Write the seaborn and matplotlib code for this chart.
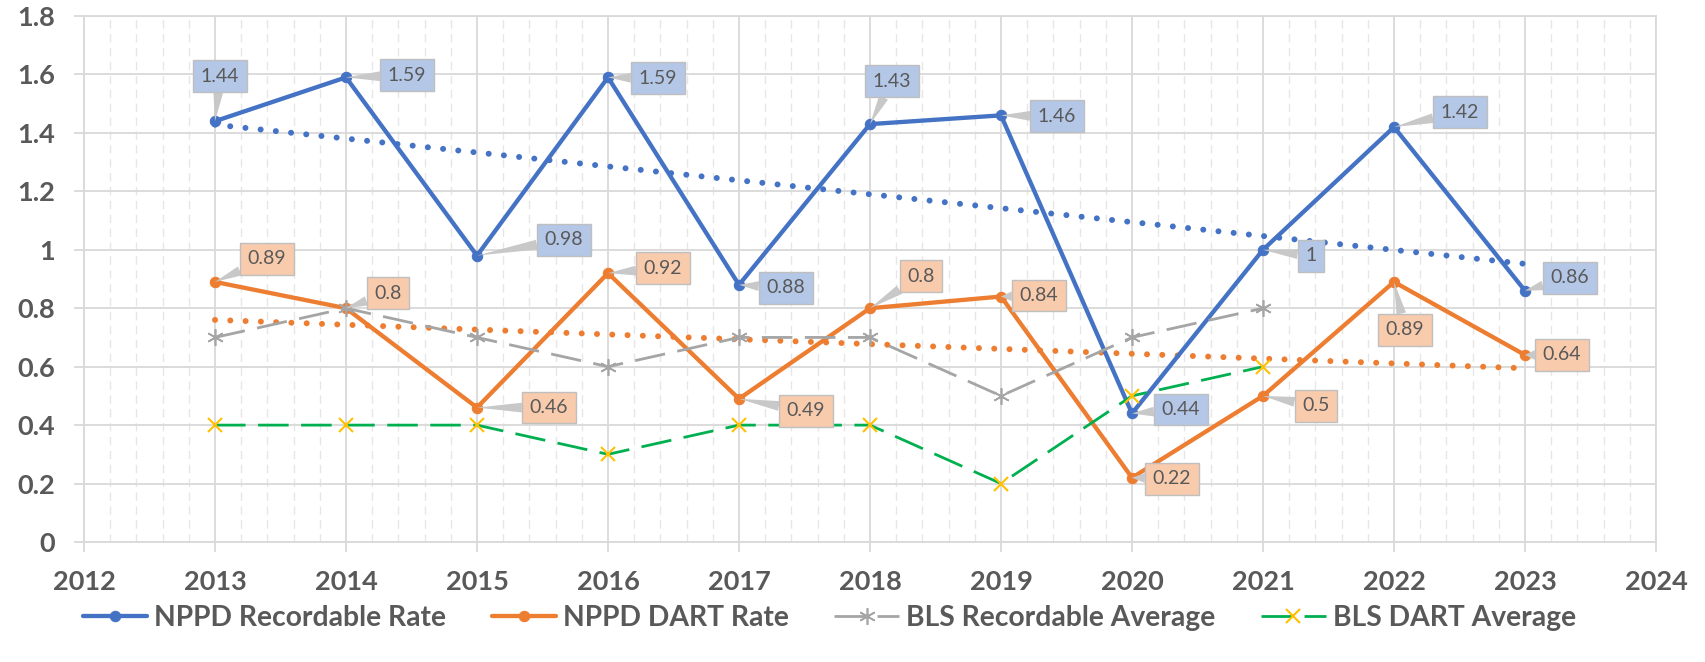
import matplotlib
matplotlib.use("Agg")
import matplotlib.pyplot as plt
import seaborn as sns
from matplotlib.ticker import MultipleLocator, FixedLocator

# ---------------- data ----------------
years = [2013, 2014, 2015, 2016, 2017, 2018, 2019, 2020, 2021, 2022, 2023]
nppd_recordable = [1.44, 1.59, 0.98, 1.59, 0.88, 1.43, 1.46, 0.44, 1.00, 1.42, 0.86]
nppd_dart = [0.89, 0.80, 0.46, 0.92, 0.49, 0.80, 0.84, 0.22, 0.50, 0.89, 0.64]
bls_years = [2013, 2014, 2015, 2016, 2017, 2018, 2019, 2020, 2021]
bls_recordable = [0.7, 0.8, 0.7, 0.6, 0.7, 0.7, 0.5, 0.7, 0.8]
bls_dart = [0.4, 0.4, 0.4, 0.3, 0.4, 0.4, 0.2, 0.5, 0.6]
series_names = ["NPPD Recordable Rate", "NPPD DART Rate",
                "BLS Recordable Average", "BLS DART Average"]
x_ticks = list(range(2012, 2025))
y_ticks = [0, 0.2, 0.4, 0.6, 0.8, 1.0, 1.2, 1.4, 1.6, 1.8]
y_tick_labels = ["0", "0.2", "0.4", "0.6", "0.8", "1", "1.2", "1.4", "1.6", "1.8"]

# ---------------- layout / style ----------------
BLUE, ORANGE, GRAY, GREEN, YELLOW = "#4472C4", "#ED7D31", "#A5A5A5", "#00B050", "#FFC000"
BLUE_BOX, ORANGE_BOX = "#B4C7E7", "#F8CBAD"
TXT = "#595959"
GRID = "#D9D9D9"

# callout offsets in pixels (dx right, dy down)
blue_offsets = [(5, -45), (61, -2), (87, -16), (50, 1), (47, 3), (22, -43),
                (56, 1), (49, -4), (48, 6), (66, -15), (45, -13)]
orange_offsets = [(52, -23), (42, -15), (72, 0), (55, -5), (67, 12), (51, -32),
                  (38, -1), (40, 1), (53, 10), (11, 48), (37, 0)]

sns.set_theme(style="white")
plt.rcParams["font.family"] = ["Lato", "DejaVu Sans"]

fig = plt.figure(figsize=(17.06, 6.62), dpi=100)
ax = fig.add_axes([84 / 1706, 1 - 542 / 662, (1656 - 84) / 1706, (542 - 16) / 662])

# main series
sns.lineplot(x=years, y=nppd_recordable, ax=ax, color=BLUE, lw=3.1, marker="o",
             markersize=7.5, markeredgecolor=BLUE, label=series_names[0], legend=False, zorder=4)
sns.lineplot(x=years, y=nppd_dart, ax=ax, color=ORANGE, lw=3.1, marker="o",
             markersize=7.5, markeredgecolor=ORANGE, label=series_names[1], legend=False, zorder=4)
sns.lineplot(x=bls_years, y=bls_recordable, ax=ax, color=GRAY, lw=2.0,
             linestyle=(0, (11, 4.5)), marker=(6, 2, 0), markersize=12,
             markeredgecolor=GRAY, markeredgewidth=1.2,
             label=series_names[2], legend=False, zorder=5)
sns.lineplot(x=bls_years, y=bls_dart, ax=ax, color=GREEN, lw=2.0,
             linestyle=(0, (11, 4.5)), marker="x", markersize=10,
             markeredgecolor=YELLOW, markeredgewidth=1.5,
             label=series_names[3], legend=False, zorder=5)

# linear trendlines
for vals, col in [(nppd_recordable, BLUE), (nppd_dart, ORANGE)]:
    sns.regplot(x=years, y=vals, ax=ax, scatter=False, ci=None, truncate=True,
                line_kws=dict(color=col, lw=4.3, linestyle=(0, (0.01, 2.55)),
                              dash_capstyle="round", zorder=3))

# data callouts
def callouts(vals, offsets, fc):
    for x, v, (dx, dy) in zip(years, vals, offsets):
        ax.annotate(f"{v:g}", xy=(x, v), xytext=(dx, -dy), textcoords="offset pixels",
                    ha="center", va="center", fontsize=14, color=TXT, zorder=7,
                    bbox=dict(boxstyle="square,pad=0.38", fc=fc, ec="#BFBFBF", lw=1),
                    arrowprops=dict(arrowstyle="wedge,tail_width=0.5", fc="#C8C8C8",
                                    ec="none", shrinkA=0, shrinkB=0))

callouts(nppd_recordable, blue_offsets, BLUE_BOX)
callouts(nppd_dart, orange_offsets, ORANGE_BOX)

# axes
ax.set_xlim(2012, 2024)
ax.set_ylim(0, 1.8)
ax.xaxis.set_major_locator(FixedLocator(x_ticks))
ax.xaxis.set_minor_locator(MultipleLocator(0.2))
ax.set_xticks(x_ticks)
ax.set_xticklabels([str(t) for t in x_ticks], fontweight="bold")
ax.set_yticks(y_ticks)
ax.set_yticklabels(y_tick_labels, fontweight="bold")
ax.tick_params(axis="both", which="major", labelsize=19.5, labelcolor=TXT,
               color=GRID, length=7, width=1.3)
ax.tick_params(axis="x", which="major", bottom=True, pad=13)
ax.tick_params(axis="y", which="major", left=True, pad=14)
ax.tick_params(axis="x", which="minor", length=0)
ax.grid(True, which="major", axis="both", color=GRID, lw=1.3, zorder=0)
ax.grid(True, which="minor", axis="x", color="#E6E6E6", lw=1.0,
        linestyle=(0, (6, 4)), zorder=0)
ax.set_axisbelow(True)
for s in ax.spines.values():
    s.set_color(GRID)
    s.set_linewidth(1.3)
ax.set_xlabel("")
ax.set_ylabel("")

# legend
handles, labels = ax.get_legend_handles_labels()
pairs = [(h, l) for h, l in zip(handles, labels) if l in series_names]
fig.legend([p[0] for p in pairs], [p[1] for p in pairs], loc="center",
           bbox_to_anchor=(0.486, 1 - 618 / 662), ncol=4, frameon=False,
           prop=dict(family=["Lato", "DejaVu Sans"], weight="bold", size=20.3),
           labelcolor=TXT, handlelength=2.3, columnspacing=1.6, handletextpad=0.25)

fig.savefig("out.png", dpi=100)
